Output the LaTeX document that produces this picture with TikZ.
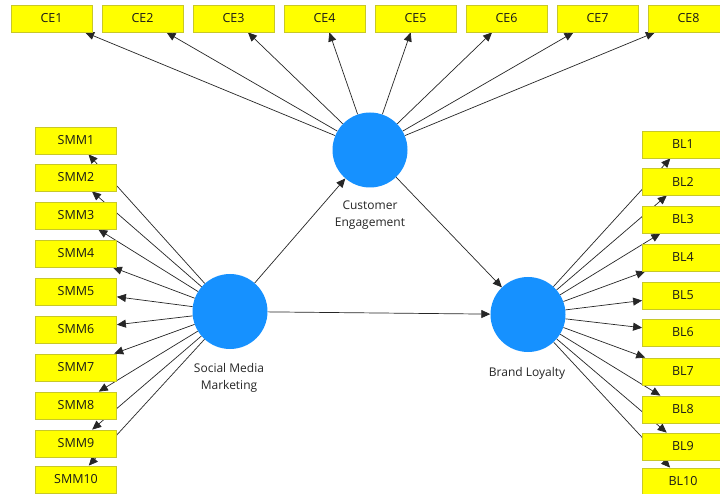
\documentclass[tikz,border=0pt]{standalone}
\usepackage{fontspec}
\setmainfont{Open Sans}
\usetikzlibrary{arrows.meta,backgrounds}
\definecolor{lvcol}{RGB}{22,145,255}
\definecolor{indcol}{RGB}{255,255,0}
\definecolor{indborder}{RGB}{200,200,40}
\begin{document}
\begin{tikzpicture}[x=1pt,y=-1pt,
  indbox/.style={draw=indborder, fill=indcol, minimum width=81pt, minimum height=27pt,
    inner sep=0pt, font=\fontsize{12.5}{14}\selectfont, text=black!90, line width=0.8pt},
  lvnode/.style={circle, fill=lvcol, minimum size=75pt, inner sep=0pt},
  lbl/.style={font=\fontsize{12}{17}\selectfont, text=black!85, align=center},
  con/.style={-{Triangle[length=9pt,width=8pt]}, draw=black!85, line width=0.7pt}]
\useasboundingbox (0,0) rectangle (720,494);
% latent variables
\node[lvnode] (CE) at (370,150) {};
\node[lvnode] (SMM) at (230,311.5) {};
\node[lvnode] (BL) at (528,314.5) {};
\node[lbl] (ceL) at (370,215.5) {Customer\\Engagement};
\node[lbl] (smmL) at (229,378) {Social Media\\Marketing};
\node[lbl] (blL) at (527,373) {Brand Loyalty};
% indicators
\foreach \i/\x in {1/51.5,2/142.5,3/233.5,4/324.5,5/415.5,6/506.5,7/597.5,8/688.5}
  \node[indbox] (CE\i) at (\x,18.5) {CE\i};
\foreach \i/\y in {1/140.5,2/177.5,3/215.5,4/253.5,5/291.5,6/329.5,7/367.5,8/405.5,9/443.5,10/479.5}
  \node[indbox] (SMM\i) at (76,\y) {SMM\i};
\foreach \i/\y in {1/144.5,2/181.5,3/219.5,4/257.5,5/295.5,6/332.5,7/371.5,8/409.5,9/446.5,10/481.5}
  \node[indbox] (BL\i) at (683,\y) {BL\i};
% connectors
\begin{scope}[on background layer]
  \fill[white] (0,0) rectangle (720,494);
  \foreach \i in {1,...,8} \draw[con] (CE) -- (CE\i);
  \foreach \i in {1,...,10} \draw[con] (SMM) -- (SMM\i);
  \foreach \i in {1,...,10} \draw[con] (BL) -- (BL\i);
  \draw[con] (SMM) -- (CE);
  \draw[con] (SMM) -- (BL);
  \draw[con] (CE) -- (BL);
\end{scope}
\end{tikzpicture}
\end{document}
